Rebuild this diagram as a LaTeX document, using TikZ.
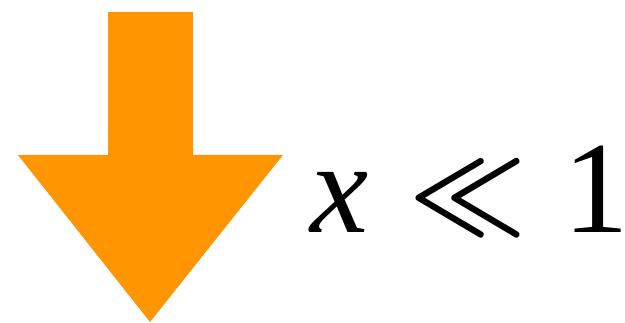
\documentclass[tikz,border=0pt]{standalone}
\usepackage{fontspec}
\usepackage{graphicx}
\setmainfont{Liberation Serif}
\definecolor{arrorange}{HTML}{FF9500}
\begin{document}
\begin{tikzpicture}[x=1pt,y=-1pt,
  lbl/.style={inner sep=0pt,anchor=base,font=\fontsize{131}{131}\selectfont}]
\useasboundingbox (0,0) rectangle (625,323);
\fill[arrorange] (108,12) -- (193,12) -- (193,155) -- (283,155) -- (150,322) -- (18,155) -- (108,155) -- cycle;
\node[lbl] (vx) at (340,233) {\itshape x};
\node[inner sep=0pt,anchor=center] (rel) at (468.5,198.5) {\resizebox*{117pt}{73pt}{\boldmath$\ll$}};
\node[lbl] (one) at (596,233) {\makebox[48pt]{1}};
\end{tikzpicture}
\end{document}
